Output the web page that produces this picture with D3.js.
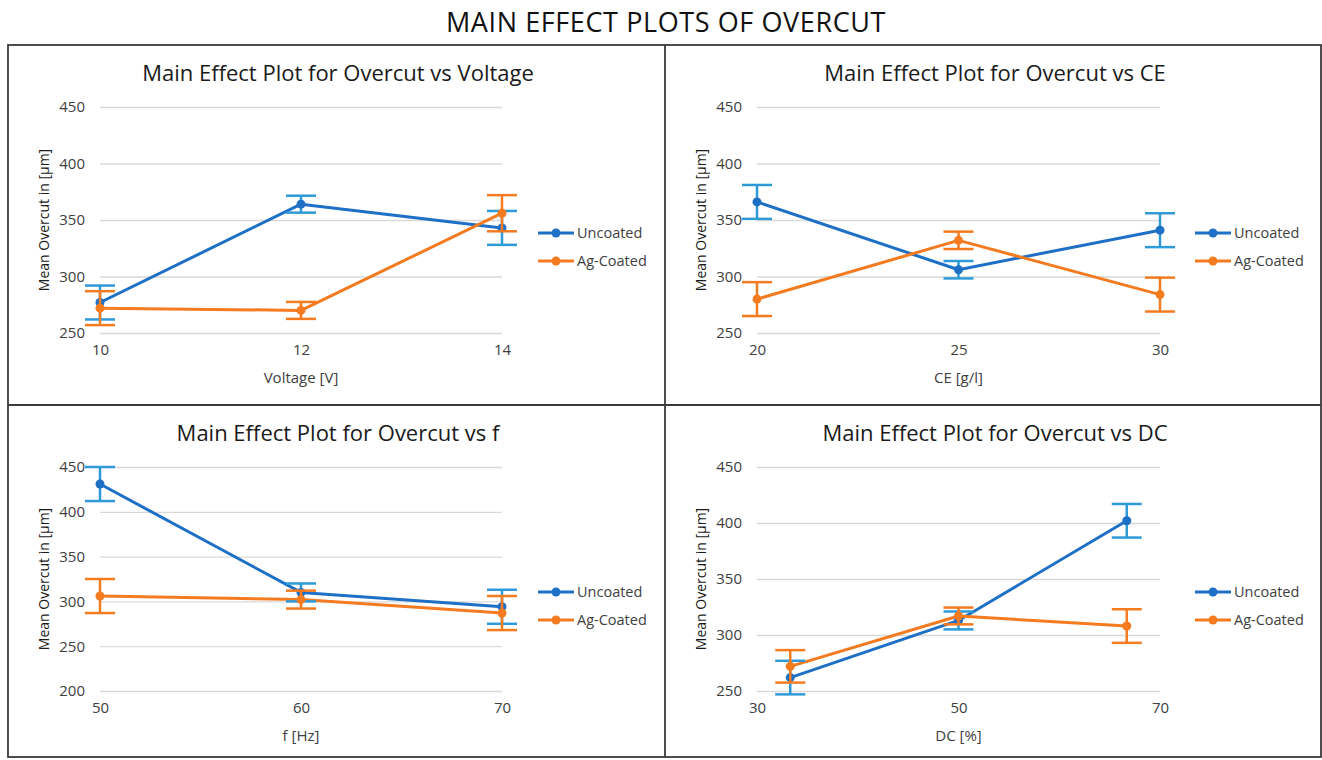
<!DOCTYPE html>
<html>
<head>
<meta charset="utf-8">
<script src="https://cdn.jsdelivr.net/npm/d3@7"></script>
<style>
  html, body { margin: 0; padding: 0; background: #fff; }
  svg { display: block; font-family: "Open Sans", "Noto Sans", sans-serif; }
</style>
</head>
<body>
<svg id="chart" width="1322" height="760"></svg>
<script>
// ---------- DATA ----------
const mainTitle = "MAIN EFFECT PLOTS OF OVERCUT";
const seriesNames = ["Uncoated", "Ag-Coated"];
const yAxisTitle = "Mean Overcut in [µm]";

const voltageLevels = [10, 12, 14];
const voltageTicks = [10, 12, 14];
const voltageUncoated = [277, 364, 343];
const voltageUncoatedErr = [15, 7.5, 15];
const voltageCoated = [272, 270, 356];
const voltageCoatedErr = [15, 7.5, 16];

const ceLevels = [20, 25, 30];
const ceTicks = [20, 25, 30];
const ceUncoated = [366, 306, 341];
const ceUncoatedErr = [15, 7.7, 15];
const ceCoated = [280, 332, 284];
const ceCoatedErr = [15, 7.7, 15];

const fLevels = [50, 60, 70];
const fTicks = [50, 60, 70];
const fUncoated = [431, 310, 294];
const fUncoatedErr = [19, 10, 19];
const fCoated = [306, 302, 287];
const fCoatedErr = [19, 10, 19];

const dcLevels = [33.3, 50, 66.7];
const dcTicks = [30, 50, 70];
const dcUncoated = [262, 313, 402];
const dcUncoatedErr = [15, 8, 15];
const dcCoated = [272, 317, 308];
const dcCoatedErr = [14.5, 7.5, 15];

const yTicksA = [250, 300, 350, 400, 450];
const yTicksB = [200, 250, 300, 350, 400, 450];

const panelTitles = [
  "Main Effect Plot for Overcut vs Voltage",
  "Main Effect Plot for Overcut vs CE",
  "Main Effect Plot for Overcut vs f",
  "Main Effect Plot for Overcut vs DC"
];
const xAxisTitles = ["Voltage [V]", "CE [g/l]", "f [Hz]", "DC [%]"];

// ---------- LAYOUT / STYLE ----------
const colors = {
  uncLine: "#1E6FC6", uncErr: "#2E9AD8",
  agLine: "#F47B20", agErr: "#F47B20",
  grid: "#D9D9D9", tick: "#404040", text: "#1a1a1a", frame: "#3a3a3a"
};

const panels = [
  { levels: voltageLevels, ticks: voltageTicks, unc: voltageUncoated, uncErr: voltageUncoatedErr,
    ag: voltageCoated, agErr: voltageCoatedErr, yTicks: yTicksA, xDomain: [10, 14],
    x0: 100, x1: 502, yTop: 107, yBot: 333, ox: 0, oy: 0 },
  { levels: ceLevels, ticks: ceTicks, unc: ceUncoated, uncErr: ceUncoatedErr,
    ag: ceCoated, agErr: ceCoatedErr, yTicks: yTicksA, xDomain: [20, 30],
    x0: 757, x1: 1160, yTop: 107, yBot: 333, ox: 657, oy: 0 },
  { levels: fLevels, ticks: fTicks, unc: fUncoated, uncErr: fUncoatedErr,
    ag: fCoated, agErr: fCoatedErr, yTicks: yTicksB, xDomain: [50, 70],
    x0: 100, x1: 502, yTop: 467, yBot: 691, ox: 0, oy: 360 },
  { levels: dcLevels, ticks: dcTicks, unc: dcUncoated, uncErr: dcUncoatedErr,
    ag: dcCoated, agErr: dcCoatedErr, yTicks: yTicksA, xDomain: [30, 70],
    x0: 757, x1: 1160, yTop: 467, yBot: 691, ox: 657, oy: 360 }
];

const svg = d3.select("#chart");

// main title
svg.append("text")
  .attr("x", 666).attr("y", 32)
  .attr("text-anchor", "middle")
  .attr("font-size", 27)
  .attr("letter-spacing", 0.6)
  .attr("fill", "#111")
  .text(mainTitle);

// frames
const frame = svg.append("g").attr("stroke", colors.frame).attr("stroke-width", 1.8).attr("fill", "none");
frame.append("rect").attr("x", 8).attr("y", 45).attr("width", 1313).attr("height", 712);
frame.append("line").attr("x1", 665).attr("x2", 665).attr("y1", 45).attr("y2", 757);
frame.append("line").attr("x1", 8).attr("x2", 1321).attr("y1", 405).attr("y2", 405);

panels.forEach((p, i) => {
  const g = svg.append("g");
  const x = d3.scaleLinear().domain(p.xDomain).range([p.x0, p.x1]);
  const y = d3.scaleLinear().domain([p.yTicks[0], 450]).range([p.yBot, p.yTop]);

  // title
  g.append("text")
    .attr("x", 338 + p.ox).attr("y", 81 + p.oy)
    .attr("text-anchor", "middle")
    .attr("font-size", 22)
    .attr("fill", colors.text)
    .text(panelTitles[i]);

  // y grid + labels
  const yAxis = g.append("g")
    .attr("transform", `translate(${p.x0},0)`)
    .call(d3.axisLeft(y).tickValues(p.yTicks).tickSize(-(p.x1 - p.x0)).tickPadding(15).tickFormat(d3.format("d")));
  yAxis.select(".domain").remove();
  yAxis.selectAll(".tick line").attr("stroke", colors.grid).attr("stroke-width", 1.3);
  yAxis.selectAll(".tick text").attr("fill", colors.tick).attr("font-size", 15).attr("font-family", "Open Sans, sans-serif");

  // x labels
  const xAxis = g.append("g")
    .attr("transform", `translate(0,${p.yBot})`)
    .call(d3.axisBottom(x).tickValues(p.ticks).tickSize(0).tickPadding(11).tickFormat(d3.format("d")));
  xAxis.select(".domain").remove();
  xAxis.selectAll(".tick text").attr("fill", colors.tick).attr("font-size", 15).attr("font-family", "Open Sans, sans-serif");

  // x title
  g.append("text")
    .attr("x", (p.x0 + p.x1) / 2).attr("y", p.yBot + 50)
    .attr("text-anchor", "middle")
    .attr("font-size", 15)
    .attr("fill", colors.tick)
    .text(xAxisTitles[i]);

  // y title
  const ytx = (i % 2 === 0) ? 44 : 701;
  const yty = (p.yTop + p.yBot) / 2;
  g.append("text")
    .attr("transform", `translate(${ytx},${yty}) rotate(-90)`)
    .attr("text-anchor", "middle")
    .attr("dy", "0.35em")
    .attr("font-size", 14)
    .attr("fill", colors.text)
    .text(yAxisTitle);

  const series = [
    { vals: p.unc, err: p.uncErr, line: colors.uncLine, errC: colors.uncErr },
    { vals: p.ag, err: p.agErr, line: colors.agLine, errC: colors.agErr }
  ];
  const line = d3.line().x((d, k) => x(p.levels[k])).y(d => y(d));

  series.forEach(s => {
    g.append("path").datum(s.vals)
      .attr("d", line).attr("fill", "none")
      .attr("stroke", s.line).attr("stroke-width", 3).attr("stroke-linejoin", "round");
  });
  series.forEach(s => {
    const eg = g.append("g").attr("stroke", s.errC).attr("stroke-width", 2.5);
    s.vals.forEach((v, k) => {
      const cx = x(p.levels[k]);
      const top = y(v + s.err[k]), bot = y(v - s.err[k]);
      eg.append("line").attr("x1", cx).attr("x2", cx).attr("y1", top).attr("y2", bot);
      eg.append("line").attr("x1", cx - 15).attr("x2", cx + 15).attr("y1", top).attr("y2", top);
      eg.append("line").attr("x1", cx - 15).attr("x2", cx + 15).attr("y1", bot).attr("y2", bot);
    });
    g.append("g").selectAll("circle").data(s.vals).join("circle")
      .attr("cx", (d, k) => x(p.levels[k])).attr("cy", d => y(d))
      .attr("r", 4.5).attr("fill", s.line);
  });

  // legend
  const lx = 538 + p.ox;
  const ly0 = 233 + (i >= 2 ? 359 : 0);
  series.forEach((s, k) => {
    const ly = ly0 + k * 28;
    g.append("line").attr("x1", lx).attr("x2", lx + 36).attr("y1", ly).attr("y2", ly)
      .attr("stroke", s.line).attr("stroke-width", 3);
    g.append("circle").attr("cx", lx + 18).attr("cy", ly).attr("r", 4.5).attr("fill", s.line);
    g.append("text").attr("x", lx + 39).attr("y", ly).attr("dy", "0.35em")
      .attr("font-size", 14.5).attr("fill", colors.tick)
      .text(seriesNames[k]);
  });
});
</script>
</body>
</html>
